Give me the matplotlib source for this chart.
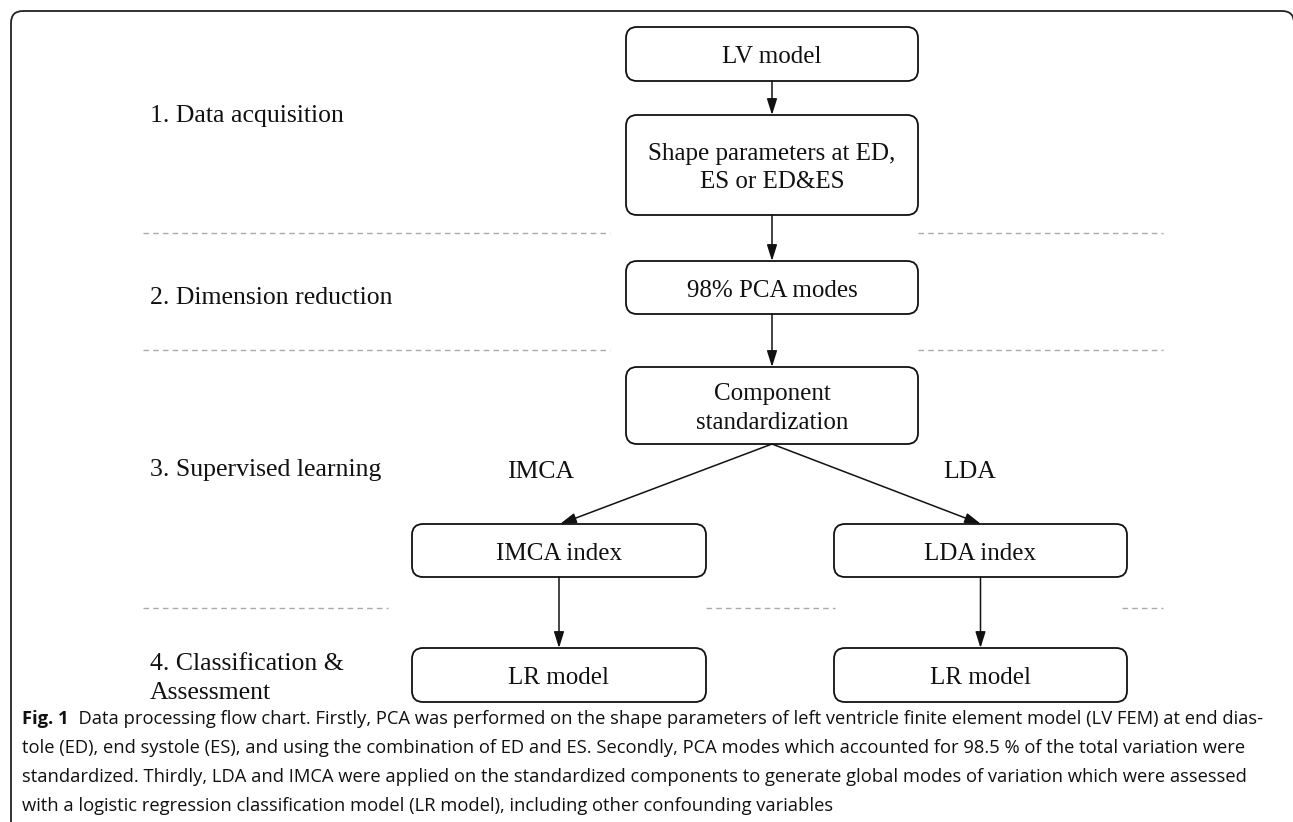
import matplotlib
matplotlib.use('Agg')
import matplotlib.pyplot as plt
from matplotlib.patches import FancyBboxPatch

W, H = 1293, 822

# box texts (flow chart nodes)
box_labels = ['LV model', 'Shape parameters at ED,\nES or ED&ES', '98% PCA modes',
              'Component\nstandardization', 'IMCA index', 'LDA index', 'LR model', 'LR model']
# left stage labels
stage_labels = ['1. Data acquisition', '2. Dimension reduction', '3. Supervised learning',
                '4. Classification &\nAssessment']
branch_labels = ['IMCA', 'LDA']
caption_bold = 'Fig. 1'
caption_lines = [
    'Data processing flow chart. Firstly, PCA was performed on the shape parameters of left ventricle finite element model (LV FEM) at end dias-',
    'tole (ED), end systole (ES), and using the combination of ED and ES. Secondly, PCA modes which accounted for 98.5 % of the total variation were',
    'standardized. Thirdly, LDA and IMCA were applied on the standardized components to generate global modes of variation which were assessed',
    'with a logistic regression classification model (LR model), including other confounding variables',
]

# layout in pixels: (x0, y0, x1, y1)
boxes = [(626, 27, 918, 81), (626, 115, 918, 215), (626, 261, 918, 314),
         (626, 367, 918, 444), (412, 524, 706, 577), (834, 524, 1127, 577),
         (412, 648, 706, 702), (834, 648, 1127, 702)]
edges = [(0, 1), (1, 2), (2, 3), (3, 4), (3, 5), (4, 6), (5, 7)]
dash_rows = [(233, [(143, 610), (918, 1163)]),
             (350, [(143, 610), (918, 1163)]),
             (608, [(143, 388), (706, 835), (1122, 1163)])]

serif = 'Liberation Serif'

fig = plt.figure(figsize=(W / 100, H / 100), dpi=100)
ax = fig.add_axes([0, 0, 1, 1])
ax.set_xlim(0, W)
ax.set_ylim(H, 0)
ax.axis('off')

# outer frame (runs off the right and bottom edges)
ax.add_patch(FancyBboxPatch((11, 11), 1283, 1000, boxstyle='round,pad=0,rounding_size=12',
                            fc='none', ec='#222222', lw=1.3))

for (x0, y0, x1, y1), label in zip(boxes, box_labels):
    ax.add_patch(FancyBboxPatch((x0, y0), x1 - x0, y1 - y0,
                                boxstyle='round,pad=0,rounding_size=11',
                                fc='white', ec='#111111', lw=1.3))
    ax.text((x0 + x1) / 2, (y0 + y1) / 2 + 3, label, ha='center', va='center',
            family=serif, fontsize=18, linespacing=1.4, color='#111111')

for a, b in edges:
    xa = (boxes[a][0] + boxes[a][2]) / 2
    xb = (boxes[b][0] + boxes[b][2]) / 2
    if a == 3:
        xb = 560 if b == 4 else 981
    ax.annotate('', xy=(xb, boxes[b][1]), xytext=(xa, boxes[a][3]),
                arrowprops=dict(arrowstyle='-|>,head_length=0.7,head_width=0.22',
                                lw=1.1, color='#111111', shrinkA=0, shrinkB=0,
                                mutation_scale=14))

for y, segs in dash_rows:
    for x0, x1 in segs:
        ax.plot([x0, x1], [y, y], color='#aaaaaa', lw=1.0, dashes=(4, 3))

stage_y = [122, 304, 476, 699]
for label, y in zip(stage_labels, stage_y):
    ax.text(150, y, label, ha='left', va='baseline', family=serif, fontsize=18.5,
            linespacing=1.4, color='#111111')

for label, x in zip(branch_labels, [541, 970]):
    ax.text(x, 478, label, ha='center', va='baseline', family=serif, fontsize=18.5,
            color='#111111')

# caption
cap_font = 'Open Sans'
fs = 13
r = fig.canvas.get_renderer()
p1 = ax.text(0, 0, caption_bold, family=cap_font, fontsize=fs, fontweight='bold')
p2 = ax.text(0, 0, '  ' + caption_lines[0], family=cap_font, fontsize=fs)
w = p1.get_window_extent(renderer=r).width + p2.get_window_extent(renderer=r).width
p1.remove()
p2.remove()
fs = fs * 1236 / w

cap_x = 22
cap_y = [724, 753, 782, 811]
tb = ax.text(cap_x, cap_y[0], caption_bold, family=cap_font, fontsize=fs,
             fontweight='bold', va='baseline', color='#111111')
bw = tb.get_window_extent(renderer=r).width
ax.text(cap_x + bw, cap_y[0], '  ' + caption_lines[0], family=cap_font, fontsize=fs,
        va='baseline', color='#111111')
for line, y in zip(caption_lines[1:], cap_y[1:]):
    ax.text(cap_x, y, line, family=cap_font, fontsize=fs, va='baseline', color='#111111')

fig.savefig('out.png', dpi=100)
